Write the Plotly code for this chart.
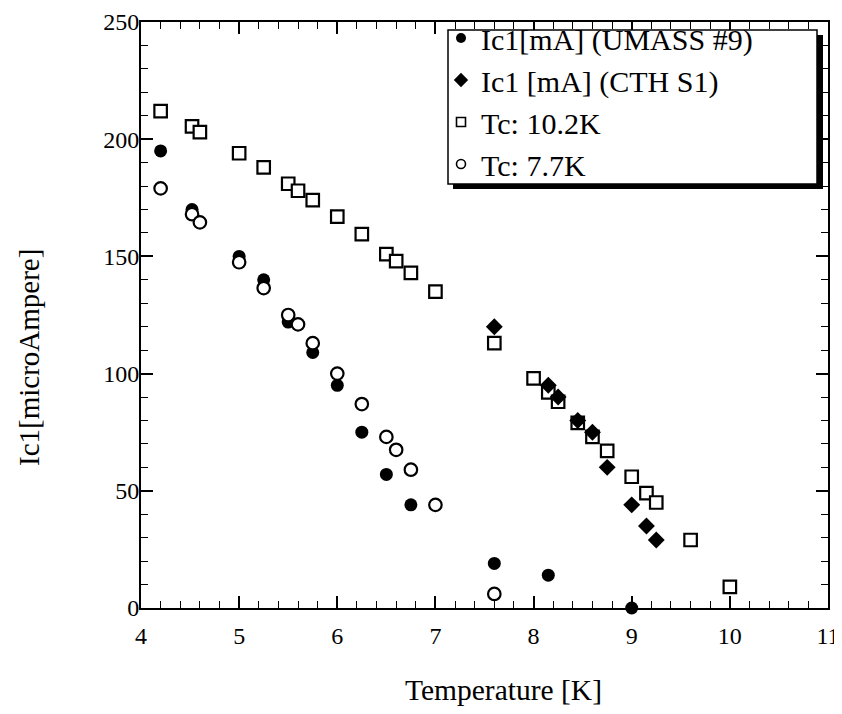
import plotly.graph_objects as go

# Ic1 [mA] (UMASS #9) - filled circles
umass_T = [4.2, 4.52, 5.0, 5.25, 5.5, 5.75, 6.0, 6.25, 6.5, 6.75, 7.6, 8.15, 9.0]
umass_I = [195, 170, 150, 140, 122, 109, 95, 75, 57, 44, 19, 14, 0]

# Ic1 [mA] (CTH S1) - diamonds
cth_T = [7.6, 8.15, 8.25, 8.45, 8.6, 8.75, 9.0, 9.15, 9.25]
cth_I = [120, 95, 90, 80, 75, 60, 44, 35, 29]

# Tc: 10.2K - open squares
tc102_T = [4.2, 4.52, 4.6, 5.0, 5.25, 5.5, 5.6, 5.75, 6.0, 6.25, 6.5, 6.6, 6.75, 7.0,
           7.6, 8.0, 8.15, 8.25, 8.45, 8.6, 8.75, 9.0, 9.15, 9.25, 9.6, 10.0]
tc102_I = [212, 205.5, 203, 194, 188, 181, 178, 174, 167, 159.5, 151, 148, 143, 135,
           113, 98, 92, 88, 79, 73, 67, 56, 49, 45, 29, 9]

# Tc: 7.7K - open circles
tc77_T = [4.2, 4.52, 4.6, 5.0, 5.25, 5.5, 5.6, 5.75, 6.0, 6.25, 6.5, 6.6, 6.75, 7.0, 7.6]
tc77_I = [179, 168, 164.5, 147.5, 136.5, 125, 121, 113, 100, 87, 73, 67.5, 59, 44, 6]

x_ticks = [4, 5, 6, 7, 8, 9, 10, 11]
y_ticks = [0, 50, 100, 150, 200, 250]

legend_names = ["Ic1[mA] (UMASS #9)", "Ic1 [mA] (CTH S1)", "Tc: 10.2K", "Tc: 7.7K"]
x_title = "Temperature [K]"
y_title = "Ic1[microAmpere]"

FONT = "Liberation Serif"

W, H = 834, 698
ML, MR, MT, MB = 133, 14, 14, 98
PW = W - ML - MR
PH = H - MT - MB
OFF = 8  # page body margin


def pxp(x_page):
    return (x_page - OFF - ML) / PW


def pyp(y_page):
    return (H - MB - (y_page - OFF)) / PH


fig = go.Figure()

# data traces
fig.add_trace(go.Scatter(x=tc102_T, y=tc102_I, mode="markers", showlegend=False,
                         marker=dict(symbol="square", size=12.5, color="white",
                                     line=dict(color="black", width=2.2))))
fig.add_trace(go.Scatter(x=cth_T, y=cth_I, mode="markers", showlegend=False,
                         marker=dict(symbol="diamond", size=13, color="black",
                                     line=dict(color="black", width=0))))
fig.add_trace(go.Scatter(x=umass_T, y=umass_I, mode="markers", showlegend=False,
                         cliponaxis=False,
                         marker=dict(symbol="circle", size=13, color="black",
                                     line=dict(color="black", width=0))))
fig.add_trace(go.Scatter(x=tc77_T, y=tc77_I, mode="markers", showlegend=False,
                         marker=dict(symbol="circle", size=12.5, color="white",
                                     line=dict(color="black", width=2.2))))

# legend entries
leg_styles = [
    dict(symbol="circle", size=10, color="black", line=dict(width=0)),
    dict(symbol="diamond", size=11, color="black", line=dict(width=0)),
    dict(symbol="square", size=9, color="white", line=dict(color="black", width=1.6)),
    dict(symbol="circle", size=9, color="white", line=dict(color="black", width=1.6)),
]
for name, st in zip(legend_names, leg_styles):
    fig.add_trace(go.Scatter(x=[None], y=[None], mode="markers", name=name, marker=st))

shapes = [
    # shadow
    dict(type="rect", xref="paper", yref="paper", layer="above",
         x0=pxp(453), x1=pxp(823), y0=pyp(189), y1=pyp(35),
         fillcolor="black", line=dict(width=0)),
    # box
    dict(type="rect", xref="paper", yref="paper", layer="above",
         x0=pxp(448), x1=pxp(817), y0=pyp(184), y1=pyp(30),
         fillcolor="white", line=dict(color="black", width=1.5)),
]

annotations = [
    dict(text=x_title, xref="paper", yref="paper", x=pxp(503), y=pyp(690),
         xanchor="center", yanchor="middle", showarrow=False,
         font=dict(family=FONT, size=29.5, color="black")),
    dict(text=y_title, xref="paper", yref="paper", x=pxp(29), y=pyp(358),
         xanchor="center", yanchor="middle", showarrow=False, textangle=-90,
         font=dict(family=FONT, size=29, color="black")),
]

axis_common = dict(
    showline=True, linecolor="black", linewidth=2, mirror="ticks",
    ticks="inside", ticklen=12, tickwidth=1.5, tickcolor="black",
    showgrid=False, zeroline=False, automargin=False,
    ticklabeloverflow="allow",
    tickfont=dict(family=FONT, size=24, color="black"),
)

fig.update_layout(
    width=W, height=H,
    margin=dict(l=ML, r=MR, t=MT, b=MB, autoexpand=False),
    paper_bgcolor="white", plot_bgcolor="white",
    shapes=shapes, annotations=annotations,
    showlegend=True,
    legend=dict(x=pxp(441), y=1 + 10.0 / PH, xanchor="left", yanchor="top",
                bgcolor="rgba(0,0,0,0)", borderwidth=0,
                font=dict(family=FONT, size=30, color="black"),
                itemsizing="trace"),
    xaxis=dict(range=[4, 11], tickvals=x_ticks, ticktext=[str(v) for v in x_ticks],
               ticklabelstandoff=5,
               minor=dict(dtick=0.2, ticks="inside", ticklen=7, tickcolor="black", tickwidth=1.2),
               **axis_common),
    yaxis=dict(range=[0, 250], tickvals=y_ticks, ticktext=[str(v) for v in y_ticks],
               ticklabelstandoff=-5,
               minor=dict(dtick=10, ticks="inside", ticklen=7, tickcolor="black", tickwidth=1.2),
               **axis_common),
)

fig.write_html("out.html")
